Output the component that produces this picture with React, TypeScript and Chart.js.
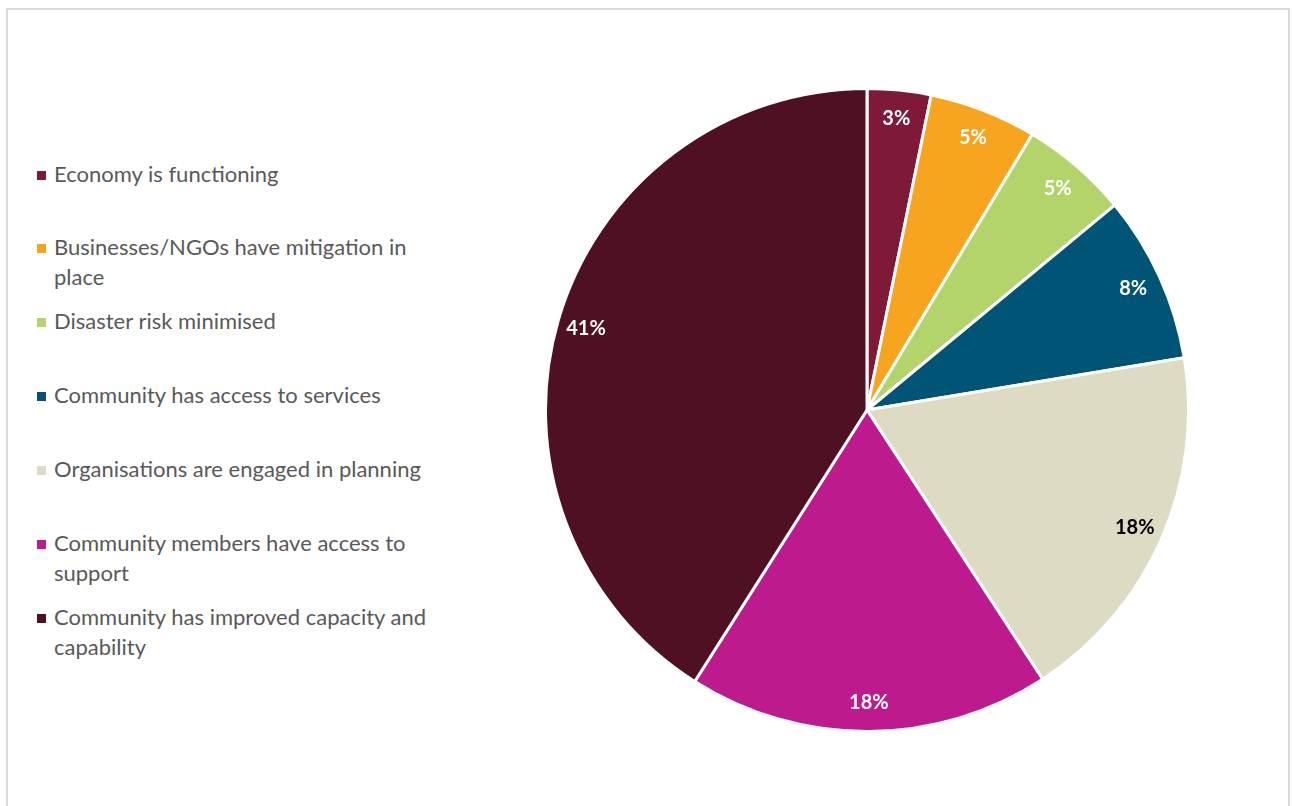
import React, { useEffect, useRef } from "react";
import { Chart, registerables } from "chart.js";

Chart.register(...registerables);

const categories = [
  "Economy is functioning",
  "Businesses/NGOs have mitigation in place",
  "Disaster risk minimised",
  "Community has access to services",
  "Organisations are engaged in planning",
  "Community members have access to support",
  "Community has improved capacity and capability",
];
const legendLines: string[][] = [
  ["Economy is functioning"],
  ["Businesses/NGOs have mitigation in", "place"],
  ["Disaster risk minimised"],
  ["Community has access to services"],
  ["Organisations are engaged in planning"],
  ["Community members have access to", "support"],
  ["Community has improved capacity and", "capability"],
];
const shares = [3.2, 5.4, 5.4, 8.4, 18.4, 18.2, 41.0];
const colors = ["#7E1937", "#F7A51E", "#B3D46A", "#005475", "#DDDBC3", "#BC1A8D", "#4E1022"];
const labelColors = ["#FFFFFF", "#FFFFFF", "#FFFFFF", "#FFFFFF", "#000000", "#FFFFFF", "#FFFFFF"];
const legendTops = [174, 247, 321, 395, 469, 543, 617];

const FONT = "Lato, 'Open Sans', sans-serif";

const labelPlugin = {
  id: "sliceLabels",
  afterDatasetsDraw(chart: any) {
    const ctx = chart.ctx;
    const meta = chart.getDatasetMeta(0);
    ctx.save();
    ctx.font = `bold 20px ${FONT}`;
    ctx.textAlign = "center";
    ctx.textBaseline = "middle";
    meta.data.forEach((arc: any, i: number) => {
      const p = arc.getProps(["x", "y", "startAngle", "endAngle", "outerRadius"], true);
      const mid = (p.startAngle + p.endAngle) / 2;
      const r = p.outerRadius * 0.91;
      ctx.fillStyle = labelColors[i];
      ctx.fillText(Math.round(shares[i]) + "%", p.x + Math.cos(mid) * r, p.y + Math.sin(mid) * r);
    });
    ctx.restore();
  },
};

export default function App() {
  const ref = useRef<HTMLCanvasElement>(null);
  useEffect(() => {
    if (!ref.current) return;
    const chart = new Chart(ref.current, {
      type: "pie",
      data: {
        labels: categories,
        datasets: [
          {
            data: shares,
            backgroundColor: colors,
            borderColor: "#FFFFFF",
            borderWidth: 3,
          },
        ],
      },
      options: {
        animation: false,
        responsive: false,
        maintainAspectRatio: false,
        layout: { padding: 0 },
        plugins: { legend: { display: false }, tooltip: { enabled: false } },
      },
      plugins: [labelPlugin],
    });
    return () => chart.destroy();
  }, []);

  return (
    <div
      style={{
        position: "absolute",
        left: 6,
        top: 8,
        width: 1280,
        height: 820,
        border: "2px solid #D9D9D9",
        background: "#fff",
        fontFamily: FONT,
      }}
    >
      <canvas
        ref={ref}
        width={646}
        height={646}
        style={{ position: "absolute", left: 867 - 323 - 8, top: 410 - 323 - 10, width: 646, height: 646 }}
      />
      {legendLines.map((lines, i) => (
        <div
          key={i}
          style={{ position: "absolute", left: 29, top: legendTops[i] - 10 - 15, color: "#595959", fontSize: 22, lineHeight: "30px" }}
        >
          <span
            style={{ position: "absolute", left: 0, top: 12, width: 9, height: 9, background: colors[i] }}
          />
          {lines.map((t, j) => (
            <div key={j} style={{ marginLeft: 17, whiteSpace: "nowrap" }}>
              {t}
            </div>
          ))}
        </div>
      ))}
    </div>
  );
}
